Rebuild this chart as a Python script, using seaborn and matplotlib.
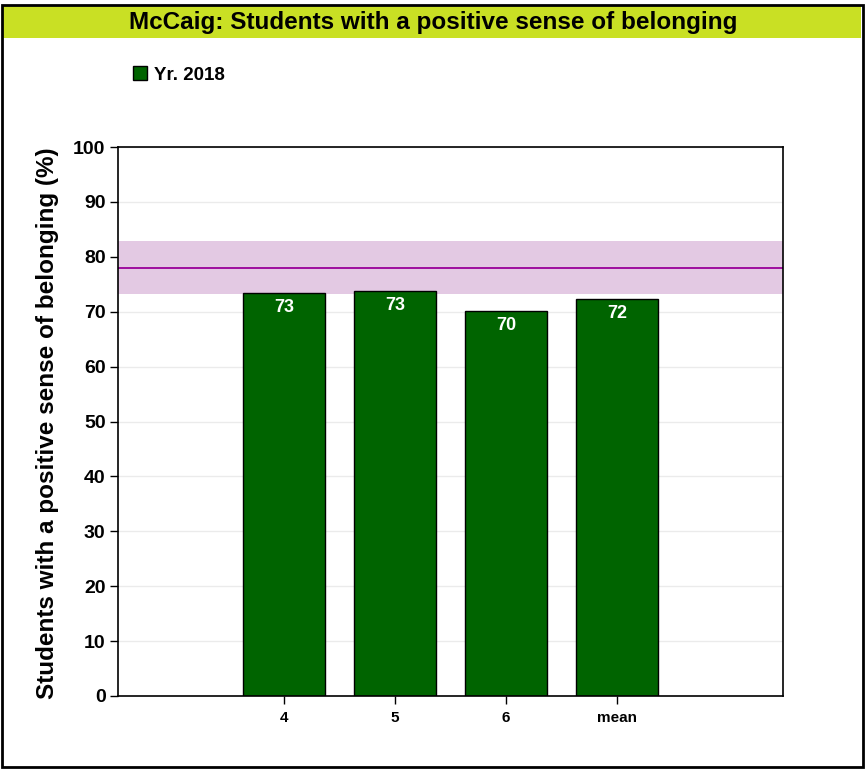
import matplotlib
matplotlib.use("Agg")
import matplotlib.pyplot as plt
from matplotlib.patches import Rectangle, Patch
import seaborn as sns
import pandas as pd

# ---- data ----
categories = ["4", "5", "6", "mean"]
values = [73.4, 73.8, 70.1, 72.3]
labels = ["73", "73", "70", "72"]
series_name = "Yr. 2018"
band_low, band_high = 73.2, 82.9
ref_line = 78.0
yticks = [0, 10, 20, 30, 40, 50, 60, 70, 80, 90, 100]
title = "McCaig: Students with a positive sense of belonging"
ylabel = "Students with a positive sense of belonging (%)"

sns.set_style("white")
plt.rcParams["font.family"] = ["Liberation Sans", "DejaVu Sans"]
plt.rcParams["font.weight"] = "bold"
plt.rcParams["text.color"] = "black"
plt.rcParams["axes.labelcolor"] = "black"
plt.rcParams["xtick.color"] = "black"
plt.rcParams["ytick.color"] = "black"

W, H = 867, 770
fig = plt.figure(figsize=(W / 100, H / 100), dpi=100)
ax = fig.add_axes([118 / W, 1 - 696 / H, (783 - 118) / W, (696 - 147) / H])

df = pd.DataFrame({"cat": categories, "val": values})

ax.set_axisbelow(True)
ax.yaxis.grid(True, color="#ebebeb", lw=1, zorder=0.2)
ax.axhspan(band_low, band_high, color="#e3c9e3", lw=0, zorder=0.8)
ax.axhline(ref_line, color="#990099", lw=1.3, zorder=0.9)

sns.barplot(data=df, x="cat", y="val", order=categories, color="#006400",
            saturation=1, width=0.74, edgecolor="black", linewidth=1,
            ax=ax, zorder=2)

for i, (v, lab) in enumerate(zip(values, labels)):
    ax.text(i, v - 1.1, lab, ha="center", va="top", color="white",
            fontsize=13, fontweight="bold", zorder=3)

ax.set_xlim(-1.5, 4.5)
ax.set_ylim(0, 100)
ax.set_yticks(yticks)
ax.set_xlabel("")
ax.set_ylabel(ylabel, fontsize=17.5, fontweight="bold")
ax.yaxis.set_label_coords(-0.088, 0.497)
ax.tick_params(axis="y", labelsize=14, length=6, width=1, direction="out", left=True, pad=3)
ax.tick_params(axis="x", labelsize=11, length=6, width=1, direction="out", bottom=True, pad=5)
for lab in ax.get_xticklabels() + ax.get_yticklabels():
    lab.set_fontweight("bold")
for s in ax.spines.values():
    s.set_visible(True)
    s.set_color("black")
    s.set_linewidth(1.2)

# legend
handle = Patch(facecolor="#006400", edgecolor="black", linewidth=1, label=series_name)
leg = ax.legend(handles=[handle], loc="upper left", bbox_to_anchor=(124 / W, 1 - 57 / H),
                bbox_transform=fig.transFigure, frameon=False,
                handlelength=0.75, handleheight=0.75, handletextpad=0.35, borderpad=0,
                prop={"weight": "bold", "size": 13.5})

# title bar and frame
fig.patches.append(Rectangle((3 / W, 1 - 38 / H), 858 / W, 32 / H, transform=fig.transFigure,
                             facecolor="#c9e024", edgecolor="none", zorder=0))
fig.patches.append(Rectangle((1.5 / W, 1 - 767 / H), 861.5 / W, 762.5 / H, transform=fig.transFigure,
                             facecolor="none", edgecolor="black", lw=2, zorder=5))
fig.text(433 / W, 1 - 22 / H, title, ha="center", va="center", fontsize=17.5,
         fontweight="bold", color="black")

fig.savefig("out.png", dpi=100)
